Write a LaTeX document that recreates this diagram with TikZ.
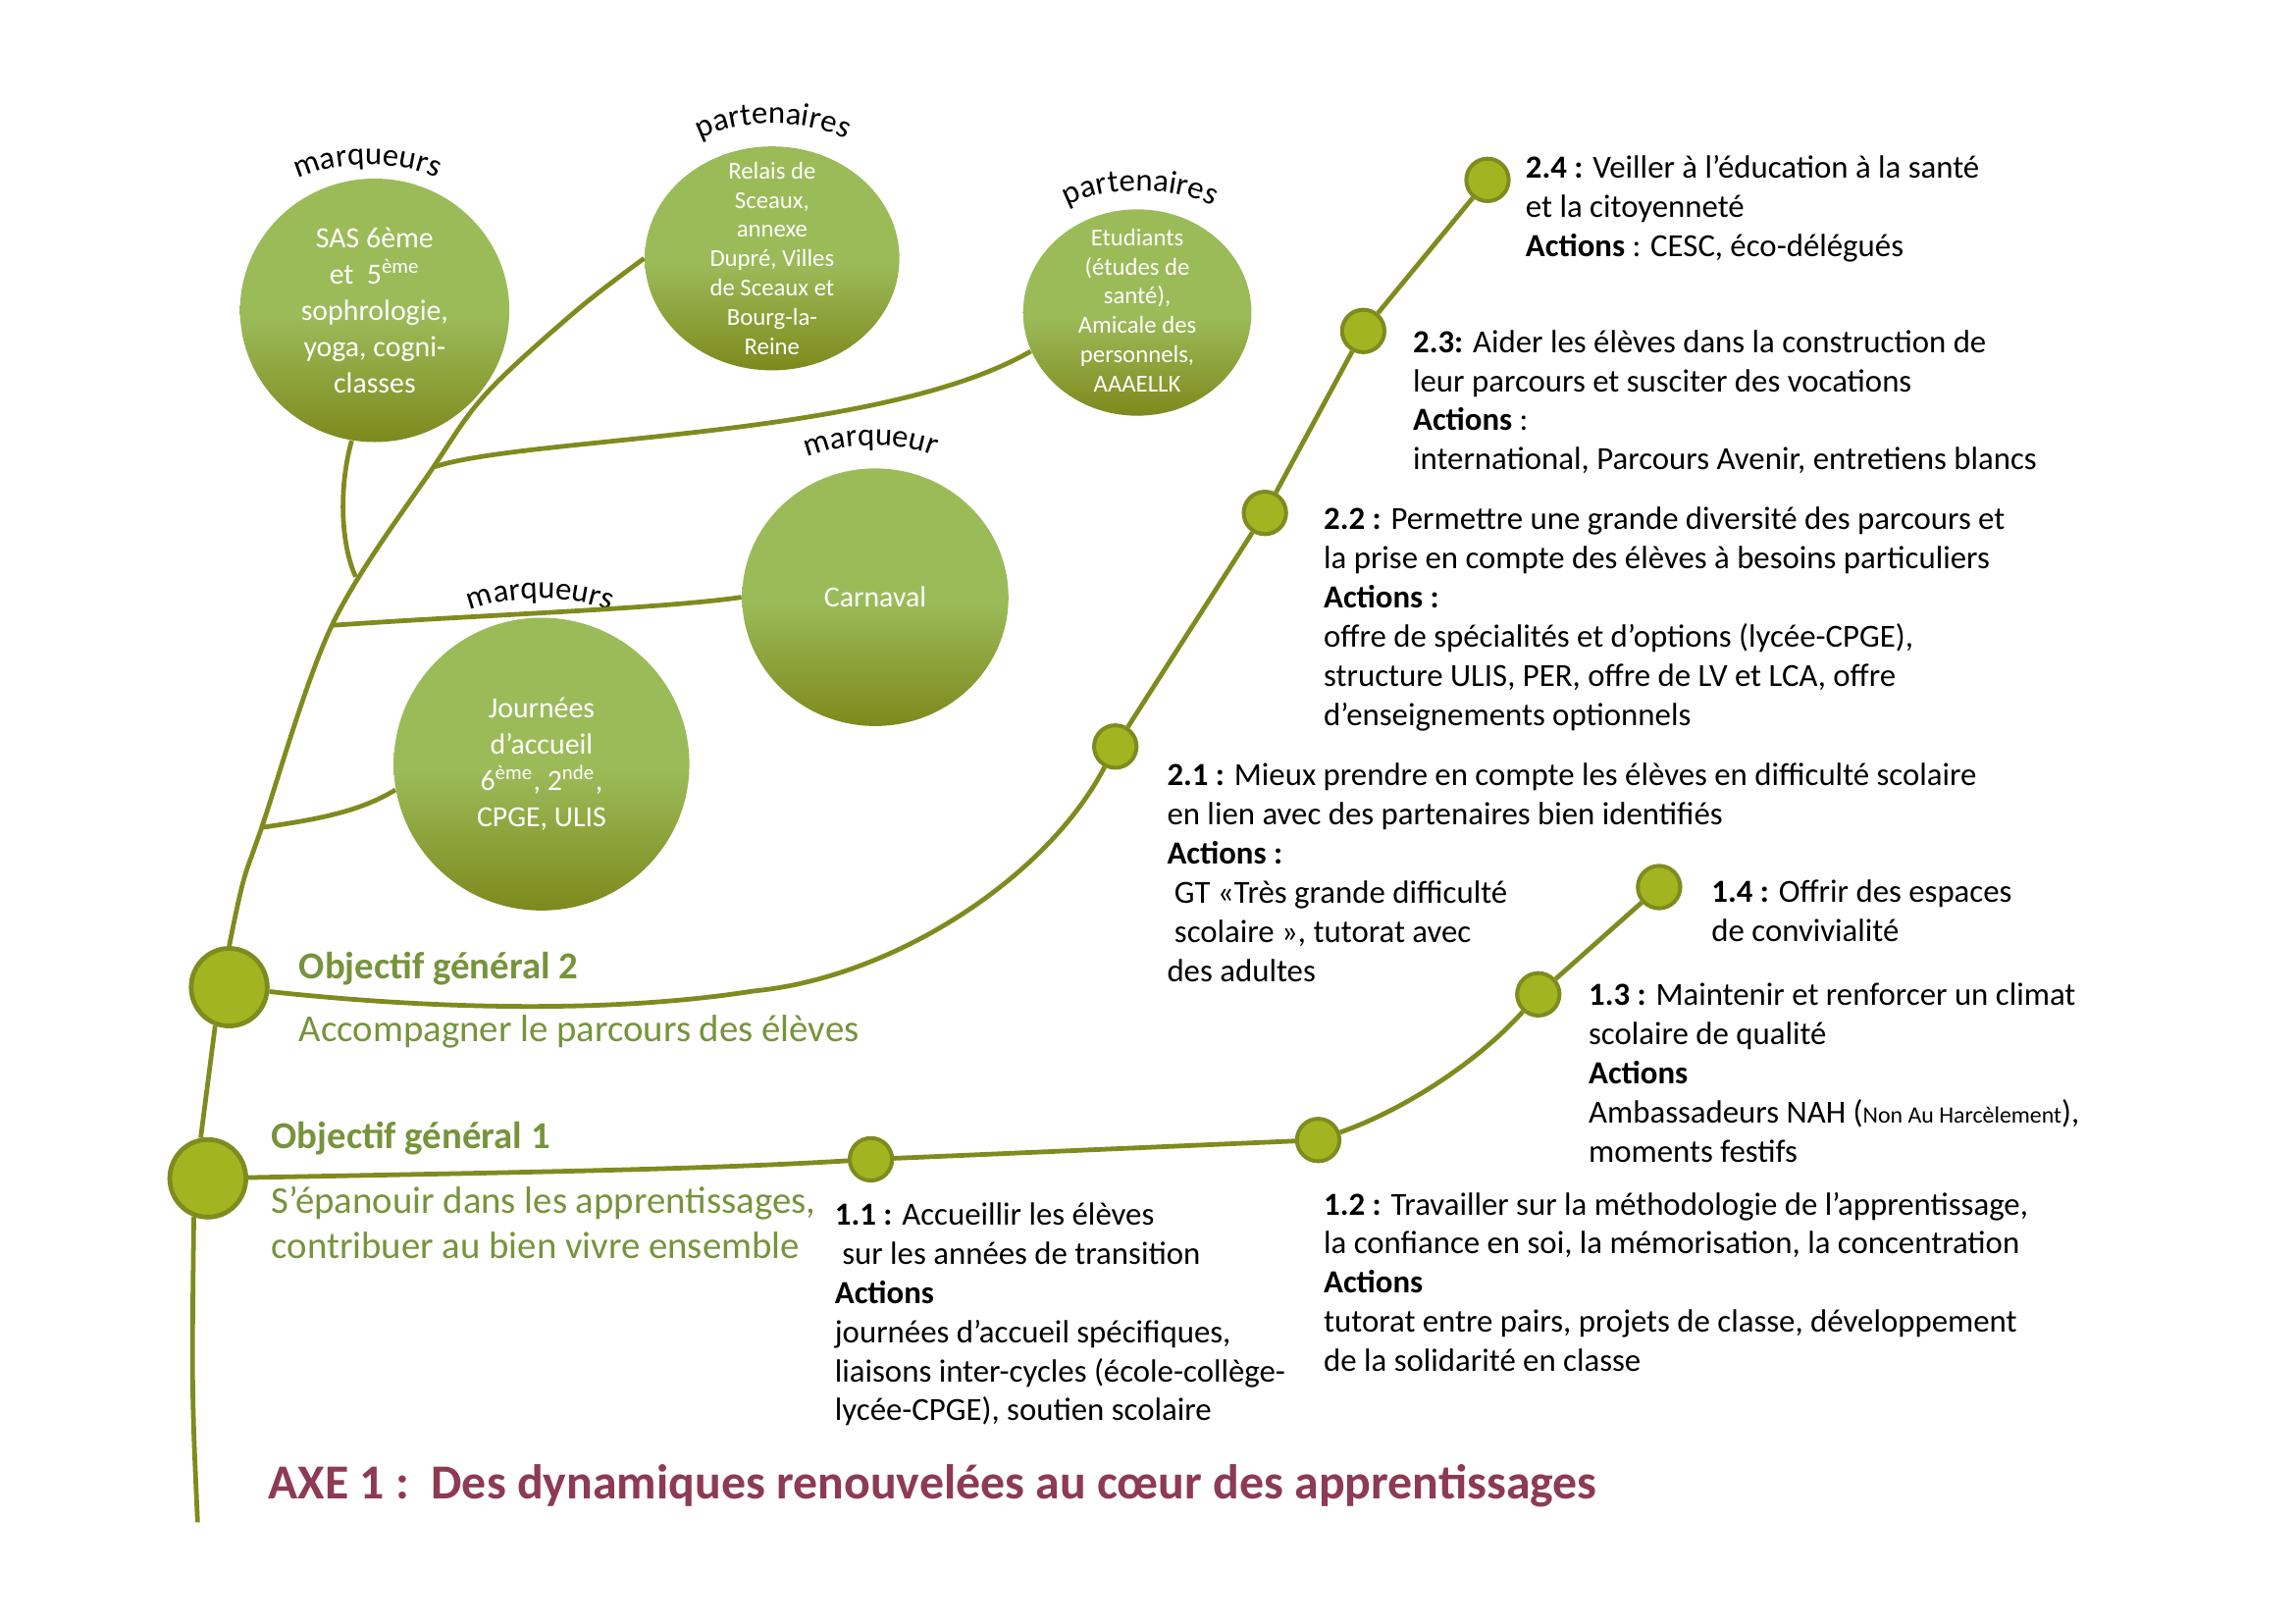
\documentclass[tikz,border=0pt]{standalone}
\usepackage{fontspec}
\setmainfont{Carlito}
\usetikzlibrary{shapes.geometric, decorations.text}

\definecolor{branchcol}{HTML}{7F8B1E}
\definecolor{dotcol}{HTML}{A2B520}
\definecolor{leaflight}{HTML}{9BBB59}
\definecolor{leafdark}{HTML}{7E891C}
\definecolor{objcol}{HTML}{77933C}
\definecolor{axecol}{HTML}{8E3A52}

\pgfdeclareverticalshading{leafshade}{100bp}{color(0bp)=(leafdark); color(25bp)=(leafdark); color(49bp)=(leaflight); color(100bp)=(leaflight)}

\newcommand\blockfont{\fontsize{11}{13.4}\selectfont}
\newcommand\leafbig{\fontsize{10}{12.4}\selectfont}
\newcommand\leafsmall{\fontsize{8.3}{10}\selectfont}
\newcommand\objfont{\fontsize{13}{15.5}\selectfont}
\newcommand\arcfont{\fontsize{11}{13}\selectfont}
\newcommand\axefont{\fontsize{16.7}{20}\selectfont}

\begin{document}
\begin{tikzpicture}[x=0.5pt, y=-0.5pt,
    branch/.style={draw=branchcol, line width=1.6pt},
    leaf/.style={ellipse, shade, shading=leafshade, inner sep=0pt},
    leaftext/.style={text=white, align=center, inner sep=0pt},
    milestone/.style={circle, draw=branchcol, line width=1.35pt, fill=dotcol, minimum size=14.5pt, inner sep=0pt},
    objnode/.style={ellipse, draw=branchcol, line width=1.6pt, fill=dotcol, minimum width=26pt, minimum height=26.5pt, inner sep=0pt},
    objtext/.style={inner sep=0pt, text=objcol},
    block/.style={anchor=north west, align=left, inner sep=0pt, font=\blockfont, execute at begin node=\strut},
    arclabel/.style={decorate, decoration={text along path, text align=center, text={|\arcfont|#1}}}]
    \useasboundingbox (0,0) rectangle (1568,1109);

    \node[leaf, minimum width=92pt, minimum height=90pt] (sas) at (256,212) {};
    \node[leaftext, font=\leafbig] at (sas) {SAS 6ème\\et\ \ 5\textsuperscript{ème}\\sophrologie,\\yoga, cogni-\\classes};
    \node[leaf, minimum width=87pt, minimum height=76.5pt] (relais) at (527.5,176.5) {};
    \node[leaftext, font=\leafsmall] at (relais) {Relais de\\Sceaux,\\annexe\\Dupré, Villes\\de Sceaux et\\Bourg-la-\\Reine};
    \node[leaf, minimum width=78pt, minimum height=70.5pt] (etud) at (777,213.5) {};
    \node[leaftext, font=\leafsmall] at (777,212) {Etudiants\\(études de\\santé),\\Amicale des\\personnels,\\AAAELLK};
    \node[leaf, minimum width=91pt, minimum height=88pt] (carn) at (598,408) {};
    \node[leaftext, font=\leafbig] at (carn) {Carnaval};
    \node[leaf, minimum width=101pt, minimum height=100pt] (jour) at (370,522) {};
    \node[leaftext, font=\leafbig] at (jour) {Journées\\d’accueil\\6\textsuperscript{ème}, 2\textsuperscript{nde},\\CPGE, ULIS};

    \path[arclabel=marqueurs] (196,127) .. controls (220,108) and (282,108) .. (306,126);
    \path[arclabel=partenaires] (466,104) .. controls (490,78) and (566,78) .. (590,104);
    \path[arclabel=partenaires] (722,146) .. controls (745,125) and (813,125) .. (836,146);
    \path[arclabel=marqueur] (542,318) .. controls (565,300) and (625,300) .. (648,317);
    \path[arclabel=marqueurs] (314,421) .. controls (340,405) and (398,405) .. (424,421);

    \node[objnode] (o1) at (142,805) {};
    \node[objnode] (o2) at (156.6,674.4) {};
    \node[milestone] (d11) at (595,792) {};
    \node[milestone] (d12) at (900.6,778.8) {};
    \node[milestone] (d13) at (1051,679.3) {};
    \node[milestone] (d14) at (1133.5,606) {};
    \node[milestone] (d21) at (762,510) {};
    \node[milestone] (d22) at (864.2,350.4) {};
    \node[milestone] (d23) at (931.4,226.1) {};
    \node[milestone] (d24) at (1016.3,122.9) {};

    \coordinate (root) at (135,1040);
    \coordinate (fJ) at (178.8,565.3);
    \coordinate (fC) at (226.8,427.2);
    \coordinate (fS) at (243,394);
    \coordinate (fE) at (296.1,319.1);

    \draw[branch] (root) .. controls (131,950) .. (o1.250);
    \draw[branch] (o1.100) -- (o2.250);
    \draw[branch] plot[smooth, tension=0.55] coordinates {(o2.north) (166,603) (fJ) (fC) (fE) (333,268) (394,212) (relais.west)};
    \draw[branch] (fJ) .. controls (215,560) and (245,555) .. (jour.190);
    \draw[branch] (fC) .. controls (330,420) and (450,416) .. (carn.west);
    \draw[branch] (fS) .. controls (232,370) and (232,330) .. (sas.260);
    \draw[branch] (fE) .. controls (360,298) and (600,300) .. (etud.200);

    \draw[branch] (o2) .. controls (300,690) and (420,692) .. (515,677) .. controls (610,668) and (715,600) .. (d21);
    \draw[branch] (d21) -- (d22) -- (d23) -- (d24);
    \draw[branch] (o1) .. controls (350,801) and (480,799) .. (d11);
    \draw[branch] (d11) -- (d12);
    \draw[branch] (d12) .. controls (960,758) and (1010,725) .. (d13);
    \draw[branch] (d13) -- (d14);

    \node[objtext, anchor=west, font=\objfont\bfseries] (obj2) at (204,662) {Objectif général 2};
    \node[objtext, anchor=west, font=\objfont] (sub2) at (204,705) {Accompagner le parcours des élèves};
    \node[objtext, anchor=west, font=\objfont\bfseries] (obj1) at (185,778) {Objectif général 1};
    \node[objtext, anchor=north west, align=left, font=\objfont, execute at begin node=\strut] (sub1) at (185,810) {S’épanouir dans les apprentissages,\\contribuer au bien vivre ensemble};

    \node[block] (t24) at (1042,106) {\textbf{2.4 :} Veiller à l’éducation à la santé\\et la citoyenneté\\\textbf{Actions} : CESC, éco-délégués};
    \node[block] (t23) at (965,225) {\textbf{2.3:} Aider les élèves dans la construction de\\leur parcours et susciter des vocations\\\textbf{Actions} :\\international, Parcours Avenir, entretiens blancs};
    \node[block] (t22) at (904,346) {\textbf{2.2 :} Permettre une grande diversité des parcours et\\la prise en compte des élèves à besoins particuliers\\\textbf{Actions :}\\offre de spécialités et d’options (lycée-CPGE),\\structure ULIS, PER, offre de LV et LCA, offre\\d’enseignements optionnels};
    \node[block] (t21) at (797,521) {\textbf{2.1 :} Mieux prendre en compte les élèves en difficulté scolaire\\en lien avec des partenaires bien identifiés\\\textbf{Actions :}\\\ GT «Très grande difficulté\\\ scolaire », tutorat avec\\des adultes};
    \node[block] (t14) at (1169,601) {\textbf{1.4 :} Offrir des espaces\\de convivialité};
    \node[block] (t13) at (1085,671) {\textbf{1.3 :} Maintenir et renforcer un climat\\scolaire de qualité\\\textbf{Actions}\\Ambassadeurs NAH ({\fontsize{8}{10}\selectfont Non Au Harcèlement}),\\moments festifs};
    \node[block] (t12) at (904,814) {\textbf{1.2 :} Travailler sur la méthodologie de l’apprentissage,\\la confiance en soi, la mémorisation, la concentration\\\textbf{Actions}\\tutorat entre pairs, projets de classe, développement\\de la solidarité en classe};
    \node[block] (t11) at (570,821) {\textbf{1.1 :} Accueillir les élèves\\\ sur les années de transition\\\textbf{Actions}\\journées d’accueil spécifiques,\\liaisons inter-cycles (école-collège-\\lycée-CPGE), soutien scolaire};

    \node[anchor=west, inner sep=0pt, font=\axefont\bfseries, text=axecol] (axe) at (183,1015) {AXE 1 :\ \ Des dynamiques renouvelées au cœur des apprentissages};
\end{tikzpicture}
\end{document}
